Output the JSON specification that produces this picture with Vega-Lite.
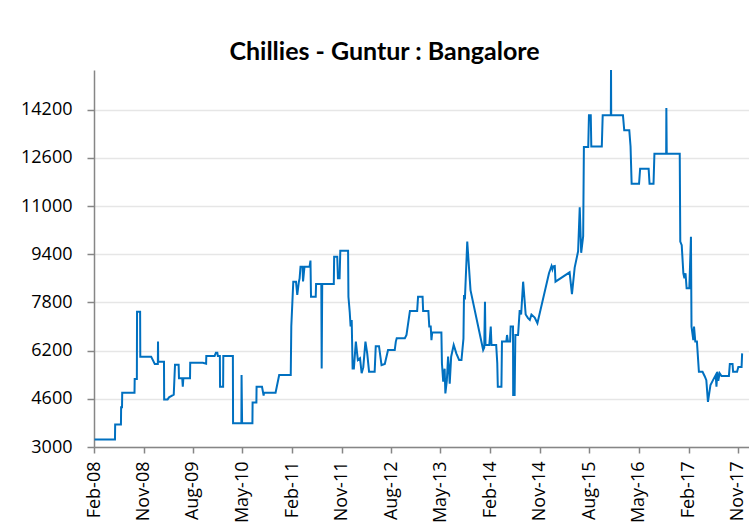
{
  "$schema": "https://vega.github.io/schema/vega-lite/v6.json",
  "autosize": "none",
  "width": 655,
  "height": 377,
  "padding": {"left": 94, "top": 70, "right": 0, "bottom": 75},
  "background": "white",
  "title": {"text": "Chillies - Guntur : Bangalore", "font": "Lato", "fontSize": 25, "fontWeight": "bold", "color": "#000000", "offset": 5, "dx": -37},
  "config": {"view": {"stroke": null}},
  "data": {"values": [
    {"d":"2008-02-04","v":3250},{"d":"2008-05-27","v":3250},{"d":"2008-05-28","v":3750},{"d":"2008-06-29","v":3750},
    {"d":"2008-06-30","v":4320},{"d":"2008-07-05","v":4320},{"d":"2008-07-06","v":4800},{"d":"2008-09-12","v":4800},
    {"d":"2008-09-13","v":5260},{"d":"2008-09-25","v":5260},{"d":"2008-09-26","v":7490},{"d":"2008-10-13","v":7490},
    {"d":"2008-10-14","v":6000},{"d":"2008-12-13","v":6000},{"d":"2009-01-02","v":5755},{"d":"2009-01-19","v":5755},
    {"d":"2009-01-20","v":6500},{"d":"2009-01-21","v":5830},{"d":"2009-02-22","v":5830},{"d":"2009-02-23","v":4580},
    {"d":"2009-03-14","v":4580},{"d":"2009-03-22","v":4650},{"d":"2009-04-17","v":4740},{"d":"2009-04-24","v":5730},
    {"d":"2009-05-14","v":5730},{"d":"2009-05-16","v":5280},{"d":"2009-06-03","v":5280},{"d":"2009-06-06","v":5000},
    {"d":"2009-06-09","v":5280},{"d":"2009-07-16","v":5280},{"d":"2009-07-17","v":5800},{"d":"2009-09-25","v":5800},
    {"d":"2009-10-13","v":5770},{"d":"2009-10-14","v":6020},{"d":"2009-11-29","v":6020},{"d":"2009-12-06","v":6130},
    {"d":"2009-12-14","v":6130},{"d":"2009-12-17","v":6020},{"d":"2009-12-28","v":6020},{"d":"2009-12-29","v":5000},
    {"d":"2010-01-15","v":5000},{"d":"2010-01-16","v":6020},{"d":"2010-03-10","v":6020},{"d":"2010-03-11","v":3790},
    {"d":"2010-04-26","v":3790},{"d":"2010-04-27","v":5390},{"d":"2010-04-30","v":3790},{"d":"2010-06-26","v":3790},
    {"d":"2010-06-27","v":4480},{"d":"2010-07-18","v":4480},{"d":"2010-07-19","v":5000},{"d":"2010-08-18","v":5000},
    {"d":"2010-08-27","v":4710},{"d":"2010-08-29","v":4800},{"d":"2010-11-01","v":4800},{"d":"2010-11-21","v":5390},
    {"d":"2011-01-24","v":5390},{"d":"2011-01-27","v":7000},{"d":"2011-02-07","v":8490},{"d":"2011-02-22","v":8490},
    {"d":"2011-03-01","v":8050},{"d":"2011-03-10","v":8490},{"d":"2011-03-14","v":8600},{"d":"2011-03-19","v":8990},
    {"d":"2011-03-30","v":8990},{"d":"2011-04-02","v":8500},{"d":"2011-04-10","v":8990},{"d":"2011-05-08","v":8990},
    {"d":"2011-05-13","v":9190},{"d":"2011-05-16","v":7990},{"d":"2011-06-11","v":7990},{"d":"2011-06-13","v":8410},
    {"d":"2011-07-12","v":8410},{"d":"2011-07-14","v":5610},{"d":"2011-07-17","v":8410},{"d":"2011-09-19","v":8410},
    {"d":"2011-09-21","v":9320},{"d":"2011-10-08","v":9320},{"d":"2011-10-12","v":8600},{"d":"2011-10-21","v":8600},
    {"d":"2011-10-25","v":9520},{"d":"2011-12-07","v":9520},{"d":"2011-12-09","v":7990},{"d":"2011-12-16","v":7490},
    {"d":"2011-12-21","v":7000},{"d":"2011-12-27","v":7220},{"d":"2012-01-01","v":5610},{"d":"2012-01-08","v":5610},
    {"d":"2012-01-19","v":6500},{"d":"2012-01-30","v":5890},{"d":"2012-02-11","v":5950},{"d":"2012-02-20","v":5450},
    {"d":"2012-02-29","v":5650},{"d":"2012-03-12","v":6500},{"d":"2012-03-22","v":6100},{"d":"2012-04-01","v":5500},
    {"d":"2012-05-02","v":5500},{"d":"2012-05-08","v":6350},{"d":"2012-05-26","v":6350},{"d":"2012-06-09","v":5720},
    {"d":"2012-06-27","v":5760},{"d":"2012-07-15","v":6220},{"d":"2012-08-21","v":6220},{"d":"2012-08-27","v":6500},
    {"d":"2012-09-01","v":6610},{"d":"2012-10-16","v":6610},{"d":"2012-10-25","v":6720},{"d":"2012-11-13","v":7520},
    {"d":"2012-12-23","v":7520},{"d":"2012-12-28","v":7990},{"d":"2013-01-22","v":7990},{"d":"2013-01-25","v":7520},
    {"d":"2013-02-23","v":7520},{"d":"2013-02-28","v":7000},{"d":"2013-03-08","v":7000},{"d":"2013-03-12","v":6550},
    {"d":"2013-03-16","v":6800},{"d":"2013-05-06","v":6800},{"d":"2013-05-09","v":5780},{"d":"2013-05-16","v":5170},
    {"d":"2013-05-24","v":5600},{"d":"2013-05-28","v":4780},{"d":"2013-06-05","v":5200},{"d":"2013-06-12","v":6000},
    {"d":"2013-06-17","v":5600},{"d":"2013-06-21","v":5100},{"d":"2013-06-29","v":6000},{"d":"2013-07-13","v":6390},
    {"d":"2013-07-28","v":6100},{"d":"2013-08-12","v":5890},{"d":"2013-08-25","v":5890},{"d":"2013-09-05","v":6600},
    {"d":"2013-09-08","v":8050},{"d":"2013-09-13","v":7900},{"d":"2013-09-26","v":9820},{"d":"2013-10-14","v":8210},
    {"d":"2013-12-23","v":6220},{"d":"2013-12-29","v":6300},{"d":"2014-01-02","v":7820},{"d":"2014-01-05","v":6390},
    {"d":"2014-01-26","v":6390},{"d":"2014-02-03","v":7000},{"d":"2014-02-07","v":6390},{"d":"2014-03-05","v":6390},
    {"d":"2014-03-11","v":5780},{"d":"2014-03-14","v":5000},{"d":"2014-04-03","v":5000},{"d":"2014-04-06","v":6500},
    {"d":"2014-04-30","v":6500},{"d":"2014-05-04","v":6720},{"d":"2014-05-09","v":6500},{"d":"2014-05-21","v":6500},
    {"d":"2014-05-24","v":7000},{"d":"2014-06-06","v":7000},{"d":"2014-06-07","v":4730},{"d":"2014-06-15","v":4730},
    {"d":"2014-06-19","v":6720},{"d":"2014-07-04","v":6720},{"d":"2014-07-13","v":7550},{"d":"2014-07-21","v":7400},
    {"d":"2014-08-01","v":8490},{"d":"2014-08-10","v":7800},{"d":"2014-08-15","v":7400},{"d":"2014-08-28","v":7280},
    {"d":"2014-09-07","v":7220},{"d":"2014-09-16","v":7400},{"d":"2014-10-04","v":7300},{"d":"2014-10-19","v":7110},
    {"d":"2014-12-22","v":8770},{"d":"2015-01-05","v":9010},{"d":"2015-01-10","v":8900},{"d":"2015-01-15","v":9000},
    {"d":"2015-01-23","v":9010},{"d":"2015-01-27","v":8490},{"d":"2015-04-15","v":8800},{"d":"2015-04-28","v":8080},
    {"d":"2015-05-13","v":8960},{"d":"2015-06-01","v":9500},{"d":"2015-06-10","v":10960},{"d":"2015-06-18","v":9450},
    {"d":"2015-06-29","v":10000},{"d":"2015-07-03","v":12960},{"d":"2015-07-27","v":12960},{"d":"2015-07-31","v":14020},
    {"d":"2015-08-10","v":14020},{"d":"2015-08-13","v":12980},{"d":"2015-10-10","v":12980},{"d":"2015-10-15","v":14020},
    {"d":"2015-11-29","v":14020},{"d":"2015-11-30","v":15520},{"d":"2015-12-01","v":14020},{"d":"2016-02-04","v":14020},
    {"d":"2016-02-11","v":13520},{"d":"2016-03-10","v":13520},{"d":"2016-03-17","v":12980},{"d":"2016-03-23","v":11740},
    {"d":"2016-05-03","v":11740},{"d":"2016-05-09","v":12240},{"d":"2016-06-25","v":12240},{"d":"2016-06-30","v":11740},
    {"d":"2016-07-22","v":11740},{"d":"2016-07-27","v":12740},{"d":"2016-09-30","v":12740},{"d":"2016-10-01","v":14260},
    {"d":"2016-10-03","v":12740},{"d":"2016-12-14","v":12740},{"d":"2016-12-17","v":9820},{"d":"2016-12-25","v":9700},
    {"d":"2017-01-03","v":8770},{"d":"2017-01-09","v":8600},{"d":"2017-01-15","v":8770},{"d":"2017-01-21","v":8270},
    {"d":"2017-02-05","v":8270},{"d":"2017-02-14","v":9980},{"d":"2017-02-17","v":7000},{"d":"2017-02-27","v":6550},
    {"d":"2017-03-03","v":7000},{"d":"2017-03-10","v":6500},{"d":"2017-03-19","v":6500},{"d":"2017-03-30","v":5500},
    {"d":"2017-04-19","v":5500},{"d":"2017-05-01","v":5350},{"d":"2017-05-10","v":5220},{"d":"2017-05-19","v":4500},
    {"d":"2017-06-02","v":5060},{"d":"2017-06-16","v":5220},{"d":"2017-07-01","v":5390},{"d":"2017-07-05","v":5000},
    {"d":"2017-07-10","v":5500},{"d":"2017-07-15","v":5200},{"d":"2017-07-23","v":5450},{"d":"2017-08-02","v":5360},
    {"d":"2017-09-12","v":5360},{"d":"2017-09-17","v":5760},{"d":"2017-10-02","v":5760},{"d":"2017-10-05","v":5500},
    {"d":"2017-10-27","v":5500},{"d":"2017-11-03","v":5660},{"d":"2017-11-21","v":5660},{"d":"2017-11-24","v":6110}
  ]},
  "mark": {"type": "line", "color": "#0070C0", "strokeWidth": 2, "clip": true, "interpolate": "linear"},
  "encoding": {
    "x": {
      "field": "d", "type": "temporal",
      "scale": {"type": "utc", "domain": [{"year": 2008, "month": 2, "date": 1, "utc": true}, {"year": 2018, "month": 1, "date": 1, "utc": true}]},
      "axis": {
        "title": null, "format": "%b-%y", "labelAngle": -90, "labelFont": "Open Sans", "labelFontSize": 18, "labelColor": "#000000",
        "labelPadding": 8, "labelOverlap": false, "labelFlush": false, "labelBound": false,
        "tickSize": 6, "tickColor": "#868686", "tickWidth": 1.5, "domainColor": "#868686", "domainWidth": 1.5, "grid": false,
        "values": [
          {"year": 2008, "month": 2, "date": 1, "utc": true}, {"year": 2008, "month": 11, "date": 1, "utc": true},
          {"year": 2009, "month": 8, "date": 1, "utc": true}, {"year": 2010, "month": 5, "date": 1, "utc": true},
          {"year": 2011, "month": 2, "date": 1, "utc": true}, {"year": 2011, "month": 11, "date": 1, "utc": true},
          {"year": 2012, "month": 8, "date": 1, "utc": true}, {"year": 2013, "month": 5, "date": 1, "utc": true},
          {"year": 2014, "month": 2, "date": 1, "utc": true}, {"year": 2014, "month": 11, "date": 1, "utc": true},
          {"year": 2015, "month": 8, "date": 1, "utc": true}, {"year": 2016, "month": 5, "date": 1, "utc": true},
          {"year": 2017, "month": 2, "date": 1, "utc": true}, {"year": 2017, "month": 11, "date": 1, "utc": true}
        ]
      }
    },
    "y": {
      "field": "v", "type": "quantitative",
      "scale": {"domain": [3000, 15520], "nice": false, "zero": false},
      "axis": {
        "title": null, "values": [3000, 4600, 6200, 7800, 9400, 11000, 12600, 14200], "format": "d",
        "labelFont": "Open Sans", "labelFontSize": 18, "labelColor": "#000000", "labelPadding": 15,
        "tickSize": 7, "tickColor": "#868686", "tickWidth": 1.5, "domainColor": "#868686", "domainWidth": 1.5,
        "grid": true, "gridColor": "#e6e6e6", "gridWidth": 1.5
      }
    }
  }
}
